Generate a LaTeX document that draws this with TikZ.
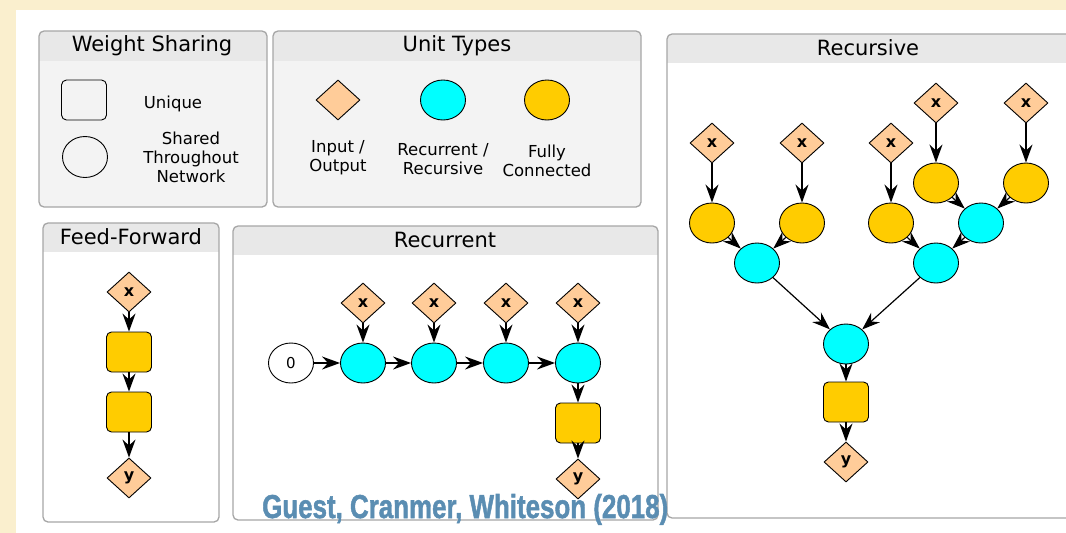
\documentclass[tikz,border=0pt]{standalone}
\usepackage{fontspec}
\setmainfont{DejaVu Sans}
\newfontfamily\citefont{Liberation Sans}[BoldFeatures={FakeBold=1.6}]
\usetikzlibrary{shapes.geometric,arrows.meta}
\definecolor{parch}{HTML}{FAEFCE}
\definecolor{peach}{HTML}{FFCC99}
\definecolor{aqua}{HTML}{00FFFF}
\definecolor{gold}{HTML}{FFCC00}
\definecolor{hdr}{HTML}{E8E8E8}
\definecolor{lightbody}{HTML}{F3F3F3}
\definecolor{frame}{HTML}{A6A6A6}
\definecolor{citeblue}{HTML}{5A8DB2}
\newcommand\mypanel[6]{%
  \fill[#6, rounded corners=5pt] (#1,#2) rectangle (#3,#4);
  \begin{scope}
    \clip[rounded corners=5pt] (#1,#2) rectangle (#3,#4);
    \fill[hdr] (#1,#2) rectangle (#3,#5);
  \end{scope}
  \draw[frame, line width=1.3pt, rounded corners=5pt] (#1,#2) rectangle (#3,#4);
}
\tikzset{
  io/.style={diamond, draw=black, fill=peach, line width=0.9pt, minimum width=44pt, minimum height=40pt, inner sep=0pt, font=\fontsize{16}{16}\selectfont\bfseries},
  rec/.style={ellipse, draw=black, fill=aqua, line width=0.9pt, minimum width=45pt, minimum height=40pt, inner sep=0pt},
  fc/.style={rec, fill=gold},
  fcsq/.style={rectangle, rounded corners=5pt, draw=black, fill=gold, line width=0.9pt, minimum width=45pt, minimum height=40pt, inner sep=0pt},
  arr/.style={-{Stealth[length=18pt,width=13pt,inset=6pt]}, line width=1.2pt},
  ptitle/.style={font=\fontsize{21}{21}\selectfont, inner sep=0pt},
  lbl/.style={font=\fontsize{16.5}{19}\selectfont, align=center, inner sep=0pt},
}
\begin{document}
\begin{tikzpicture}[x=1pt, y=-1pt]
\useasboundingbox (0,0) rectangle (1066,533);
\clip (0,0) rectangle (1066,533);
\fill[parch] (0,0) rectangle (1066,533);
\fill[white] (16,10) rectangle (1066,533);

% panels
\mypanel{39}{31}{267}{207}{61}{lightbody}
\mypanel{273}{31}{641}{207}{61}{lightbody}
\mypanel{667}{34}{1080}{518}{63}{white}
\mypanel{43}{223}{219}{522}{252}{white}
\mypanel{233}{226}{658}{520}{255}{white}

\node[ptitle] (tws) at (152,46) {Weight Sharing};
\node[ptitle] (tut) at (457,46) {Unit Types};
\node[ptitle] (trs) at (868,48) {Recursive};
\node[ptitle] (tff) at (131,237) {Feed-Forward};
\node[ptitle] (trc) at (445,240) {Recurrent};

% weight sharing legend
\node[rectangle, rounded corners=5pt, draw=black, line width=0.9pt, minimum width=45pt, minimum height=40pt] (uq) at (84,100) {};
\node[ellipse, draw=black, line width=0.9pt, minimum width=45pt, minimum height=41pt, inner sep=0pt] (sh) at (85,157) {};
\node[lbl] (luq) at (173,104) {Unique};
\node[lbl] (lsh) at (191,157) {Shared\\Throughout\\Network};

% unit types legend
\node[io] (uio) at (338,100) {};
\node[rec] (urc) at (443,100) {};
\node[fc] (ufc) at (547,100) {};
\node[lbl] (lio) at (338,158) {Input /\\Output};
\node[lbl] (lrc) at (443,159) {Recurrent /\\Recursive};
\node[lbl] (lfc) at (547,161) {Fully\\Connected};

% feed-forward
\node[io] (fx) at (129,292) {x};
\node[fcsq] (f1) at (129,352) {};
\node[fcsq] (f2) at (129,412) {};
\node[io] (fy) at (129,478) {y};
\draw[arr] (fx) -- (f1);
\draw[arr] (f1) -- (f2);
\draw[arr] (f2) -- (fy);

% recurrent
\node[ellipse, draw=black, fill=white, line width=0.9pt, minimum width=45pt, minimum height=40pt, inner sep=0pt, font=\fontsize{15}{15}\selectfont] (r0) at (291,363) {0};
\foreach \i/\xx in {1/363,2/434,3/506,4/578}{
  \node[rec] (r\i) at (\xx,363) {};
  \node[io] (rx\i) at (\xx,303) {x};
  \draw[arr] (rx\i) -- (r\i);
}
\draw[arr] (r0) -- (r1);
\draw[arr] (r1) -- (r2);
\draw[arr] (r2) -- (r3);
\draw[arr] (r3) -- (r4);
\node[fcsq] (rsq) at (578,423) {};
\node[io] (ry) at (578,479) {y};
\draw[arr] (r4) -- (rsq);
\draw[arr] (rsq) -- (ry);

% recursive
\node[io] (sx1) at (712,143) {x};
\node[io] (sx2) at (802,143) {x};
\node[io] (sx3) at (891,143) {x};
\node[io] (sx4) at (936,103) {x};
\node[io] (sx5) at (1026,103) {x};
\node[fc] (sg1) at (712,223) {};
\node[fc] (sg2) at (802,223) {};
\node[fc] (sg3) at (891,223) {};
\node[fc] (sg4) at (936,183) {};
\node[fc] (sg5) at (1026,183) {};
\node[rec] (sc1) at (757,263) {};
\node[rec] (sc2) at (936,263) {};
\node[rec] (sc3) at (981,223) {};
\node[rec] (sc0) at (846,344) {};
\node[fcsq] (ssq) at (846,402) {};
\node[io] (sy) at (846,462) {y};
\foreach \i in {1,...,5}{\draw[arr] (sx\i) -- (sg\i);}
\draw[arr] (sg1) -- (sc1);
\draw[arr] (sg2) -- (sc1);
\draw[arr] (sg3) -- (sc2);
\draw[arr] (sc3) -- (sc2);
\draw[arr] (sg4) -- (sc3);
\draw[arr] (sg5) -- (sc3);
\draw[arr] (sc1) -- (sc0);
\draw[arr] (sc2) -- (sc0);
\draw[arr] (sc0) -- (ssq);
\draw[arr] (ssq) -- (sy);

% citation
\node[anchor=base west, inner sep=0pt, text=citeblue] (cite) at (262,518)
  {\resizebox{406pt}{24pt}{\citefont\bfseries Guest, Cranmer, Whiteson (2018)}};
\end{tikzpicture}
\end{document}
